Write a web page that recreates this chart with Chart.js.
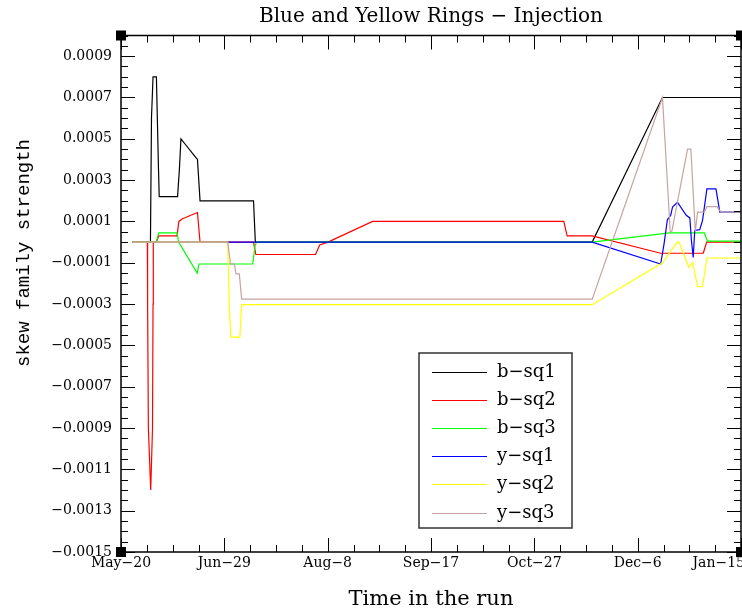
<!DOCTYPE html>
<html>
<head>
<meta charset="utf-8">
<script src="https://cdn.jsdelivr.net/npm/chart.js@4.4.1/dist/chart.umd.min.js"></script>
<style>
    html, body { margin: 0; padding: 0; background: #fff; }
</style>
</head>
<body>
<canvas id="myChart" width="742" height="613"></canvas>
<script>
// x values are days after May-20
const dayTicks = [0, 40, 80, 120, 160, 200, 240];
const dayLabels = ['May\u221220', 'Jun\u221229', 'Aug\u22128', 'Sep\u221217', 'Oct\u221227', 'Dec\u22126', 'Jan\u221215'];
const yTicks = [-0.0015, -0.0013, -0.0011, -0.0009, -0.0007, -0.0005, -0.0003, -0.0001, 0.0001, 0.0003, 0.0005, 0.0007, 0.0009];

const seriesNames = ['b\u2212sq1', 'b\u2212sq2', 'b\u2212sq3', 'y\u2212sq1', 'y\u2212sq2', 'y\u2212sq3'];
const seriesColors = ['#000000', '#ff0000', '#00ff00', '#0000ff', '#ffff00', '#c8a2a2'];

const bsq1Day = [4.4, 11.4, 11.8, 12.4, 13.7, 14.5, 14.8, 21.9, 22.6, 23.2, 25.1, 28.3, 29.6, 30.6, 51.3, 52.0, 182.4, 209.6, 240];
const bsq1Val = [0, 0, 0.0006, 0.0008, 0.0008, 0.00036, 0.00022, 0.00022, 0.00035, 0.0005, 0.00047, 0.00042, 0.0004, 0.0002, 0.0002, 0, 0, 0.0007, 0.0007];

const bsq2Day = [4.4, 10.2, 10.3, 10.6, 11.5, 12.2, 12.4, 12.5, 13.7, 14.6, 21.7, 22.4, 23.8, 29.6, 30.6, 51.3, 52.2, 75.3, 76.9, 80.1, 97.4, 171.4, 172.7, 182.4, 208.9, 225.4, 226.7, 240];
const bsq2Val = [0, 0, -0.0003, -0.0009, -0.0012, -0.0009, -0.0003, 0, 0, 0.00003, 0.00003, 0.0001, 0.000113, 0.000143, 0, 0, -0.00006, -0.00006, -0.000014, 0, 0.0001, 0.0001, 0.00003, 0.00003, -0.000054, -0.000054, 0, 0];

const bsq3Day = [4.4, 13.6, 14.6, 21.7, 22.3, 29.5, 30.2, 51.0, 51.9, 52.5, 182.4, 212.2, 225.8, 227.0, 240];
const bsq3Val = [0, 0, 0.000045, 0.000045, 0, -0.00015, -0.000106, -0.000106, -0.000017, 0, 0, 0.000045, 0.000045, 0.000005, 0.000005];

const ysq1Day = [4.4, 182.4, 208.9, 210.2, 211.5, 212.8, 213.5, 215.4, 218.8, 220.2, 220.8, 221.5, 222.1, 224.0, 225.1, 226.8, 230.3, 231.8, 240];
const ysq1Val = [0, 0, -0.000106, -0.00001, 0.000108, 0.00013, 0.00017, 0.000193, 0.00013, 0.000117, 0.00001, -0.000074, 0.000056, 0.00006, 0.000104, 0.000258, 0.000258, 0.000145, 0.000145];

const ysq2Day = [4.4, 41.3, 42.0, 42.5, 46.0, 46.7, 182.4, 209.6, 215.3, 216.0, 219.8, 221.3, 223.2, 225.1, 226.8, 240];
const ysq2Val = [0, 0, -0.00033, -0.00046, -0.00046, -0.000303, -0.000303, -0.0001, 0, 0, -0.000122, -0.000098, -0.000216, -0.000216, -0.000077, -0.000077];

const ysq3Day = [4.4, 41.3, 42.4, 43.9, 44.5, 45.8, 46.7, 182.4, 209.6, 212.6, 213.2, 219.3, 220.6, 222.3, 223.2, 225.8, 226.8, 230.7, 232.2, 240];
const ysq3Val = [0, 0, -0.000106, -0.000106, -0.000154, -0.000154, -0.000276, -0.000276, 0.0007, 0.00005, 0.00005, 0.00045, 0.00045, 0.00005, 0.000145, 0.000145, 0.000172, 0.000172, 0.000145, 0.000145];

const allDays = [bsq1Day, bsq2Day, bsq3Day, ysq1Day, ysq2Day, ysq3Day];
const allVals = [bsq1Val, bsq2Val, bsq3Val, ysq1Val, ysq2Val, ysq3Val];

const serif = 'DejaVu Serif';

// inward tick marks on all four sides, frame and corner blocks
const frameTicks = {
    id: 'frameTicks',
    afterDraw(chart) {
        const { ctx, chartArea: a, scales: { x, y } } = chart;
        ctx.save();
        ctx.strokeStyle = '#000';
        ctx.lineWidth = 1;
        ctx.beginPath();
        for (let d = 0; d <= 240; d += 10) {
            const px = Math.round(x.getPixelForValue(d)) + 0.5;
            const len = d % 40 === 0 ? 14 : 7;
            ctx.moveTo(px, a.bottom); ctx.lineTo(px, a.bottom - len);
            ctx.moveTo(px, a.top); ctx.lineTo(px, a.top + len);
        }
        for (let i = 0; i <= 50; i++) {
            const v = -0.0015 + i * 0.00005;
            const py = Math.round(y.getPixelForValue(v)) + 0.5;
            const len = i % 4 === 0 ? 14 : 7;
            ctx.moveTo(a.left, py); ctx.lineTo(a.left + len, py);
            ctx.moveTo(a.right, py); ctx.lineTo(a.right - len, py);
        }
        ctx.stroke();
        ctx.lineWidth = 1.5;
        ctx.strokeRect(a.left, a.top, a.right - a.left, a.bottom - a.top);
        ctx.fillStyle = '#000';
        [[a.left, a.top], [a.left, a.bottom], [a.right, a.bottom], [a.right, a.top]].forEach(c => {
            ctx.fillRect(c[0] - 5, c[1] - 5, 10, 10);
        });

        // y axis title
        ctx.font = '19px "Liberation Mono"';
        ctx.textAlign = 'center';
        ctx.textBaseline = 'middle';
        ctx.translate(24, 253);
        ctx.rotate(-Math.PI / 2);
        ctx.fillText('skew family strength', 0, 0);
        ctx.restore();
    }
};

// legend box inside the plot
const boxLegend = {
    id: 'boxLegend',
    afterDraw(chart) {
        const ctx = chart.ctx;
        const left = 419, top = 353, w = 153, h = 175;
        ctx.save();
        ctx.fillStyle = '#fff';
        ctx.fillRect(left, top, w, h);
        ctx.strokeStyle = '#333';
        ctx.lineWidth = 1.5;
        ctx.strokeRect(left, top, w, h);
        ctx.font = '18px "' + serif + '"';
        ctx.textBaseline = 'middle';
        ctx.textAlign = 'left';
        chart.data.datasets.forEach((ds, i) => {
            const yy = Math.round(top + 19 + i * 28.1) + 0.5;
            ctx.strokeStyle = ds.borderColor;
            ctx.lineWidth = 1;
            ctx.beginPath();
            ctx.moveTo(432, yy);
            ctx.lineTo(487, yy);
            ctx.stroke();
            ctx.fillStyle = '#000';
            ctx.fillText(ds.label, 497, yy);
        });
        ctx.restore();
    }
};

const ctx = document.getElementById('myChart').getContext('2d');
const chart = new Chart(ctx, {
    type: 'line',
    data: {
        datasets: seriesNames.map((name, i) => ({
            label: name,
            data: allDays[i].map((d, j) => ({ x: d, y: allVals[i][j] })),
            borderColor: seriesColors[i],
            backgroundColor: seriesColors[i],
            borderWidth: 1.2,
            pointRadius: 0,
            tension: 0,
            fill: false,
            order: seriesNames.length - i
        }))
    },
    options: {
        responsive: false,
        animation: false,
        devicePixelRatio: 1,
        layout: { padding: { left: 0, right: 1, top: 0, bottom: 0 } },
        plugins: {
            legend: { display: false },
            tooltip: { enabled: false }
        },
        scales: {
            x: {
                type: 'linear',
                min: 0,
                max: 240,
                grid: { display: false, drawTicks: false },
                border: { display: false },
                afterBuildTicks: scale => { scale.ticks = dayTicks.map(v => ({ value: v })); },
                afterFit: scale => {
                    scale.height = 61;
                    scale.paddingLeft = 0;
                    scale.paddingRight = 0;
                },
                ticks: {
                    autoSkip: false,
                    maxRotation: 0,
                    padding: 3,
                    color: '#000',
                    font: { family: serif, size: 14 },
                    // last label sits against the right edge, like the original
                    callback: v => v === 240 ? dayLabels[6] + '\u00a0'.repeat(10) : dayLabels[dayTicks.indexOf(v)]
                },
                title: {
                    display: true,
                    text: 'Time in the run',
                    color: '#000',
                    font: { family: serif, size: 21 },
                    padding: { top: 0, bottom: 1 }
                }
            },
            xTop: {
                type: 'linear',
                position: 'top',
                min: 0,
                max: 240,
                grid: { display: false, drawTicks: false },
                border: { display: false },
                ticks: { display: false },
                afterFit: scale => {
                    scale.height = 35.5;
                    scale.paddingLeft = 0;
                    scale.paddingRight = 0;
                },
                title: {
                    display: true,
                    text: 'Blue and Yellow Rings \u2212 Injection',
                    color: '#000',
                    font: { family: serif, size: 20 },
                    padding: { top: 5, bottom: 0 }
                }
            },
            y: {
                min: -0.0015,
                max: 0.001,
                grid: { display: false, drawTicks: false },
                border: { display: false },
                afterBuildTicks: scale => { scale.ticks = yTicks.map(v => ({ value: v })); },
                afterFit: scale => {
                    scale.width = 121;
                    scale.paddingTop = 0;
                    scale.paddingBottom = 0;
                },
                ticks: {
                    padding: 9,
                    color: '#000',
                    font: { family: serif, size: 14 },
                    callback: v => (v < 0 ? '\u2212' : '') + Math.abs(v).toFixed(4)
                }
            }
        }
    },
    plugins: [frameTicks, boxLegend]
});
</script>
</body>
</html>
